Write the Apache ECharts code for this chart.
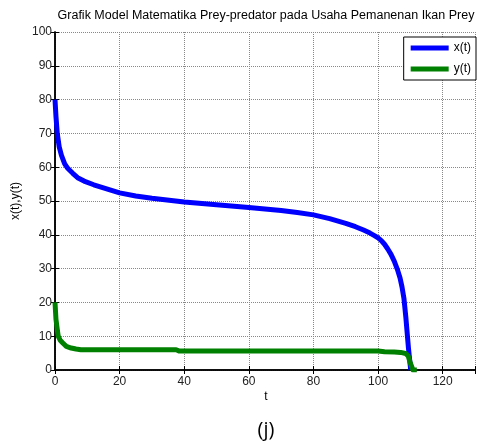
<!DOCTYPE html>
<html>
<head>
<meta charset="utf-8">
<script src="https://cdn.jsdelivr.net/npm/echarts@6/dist/echarts.min.js"></script>
<style>html,body{margin:0;padding:0;background:#fff}#c{width:478px;height:448px}</style>
</head>
<body>
<div id="c"></div>
<script>
const titleText = 'Grafik Model Matematika Prey-predator pada Usaha Pemanenan Ikan Prey';
const xTicks = [0, 20, 40, 60, 80, 100, 120];
const yTicks = [0, 10, 20, 30, 40, 50, 60, 70, 80, 90, 100];
const seriesNames = ['x(t)', 'y(t)'];

const tX = [0, 0.3, 0.7, 1.3, 2, 3, 4, 5.5, 7, 9, 12, 16, 20, 25, 30, 40, 50, 60, 70, 75, 80, 85, 90, 93, 95.5, 97.5, 99, 100, 101, 102, 103, 104, 105, 106, 106.8, 107.4, 108, 108.6, 109.4, 110.1];
const xVals = [80, 75, 70, 66, 63.5, 61, 59.6, 58.2, 56.9, 55.9, 54.8, 53.6, 52.4, 51.5, 50.8, 49.7, 48.9, 48.1, 47.2, 46.6, 45.9, 44.8, 43.4, 42.4, 41.4, 40.5, 39.7, 39.1, 38.3, 37.2, 35.8, 34.2, 32.2, 29.7, 27.2, 24.6, 21.2, 15.5, 6.5, 0];

const tY = [0, 0.3, 0.7, 1, 1.6, 2.5, 3.5, 5, 6.5, 8, 20, 37.5, 38.5, 60, 80, 100, 102, 105, 107, 108.5, 109.3, 110, 110.8, 112];
const yVals = [20, 15, 12, 10, 8.8, 7.9, 7, 6.5, 6.2, 6.0, 6.0, 6.0, 5.6, 5.6, 5.6, 5.6, 5.4, 5.3, 5.2, 4.9, 4.2, 2, 0, 0];

const pairs = (ts, vs) => ts.map((t, i) => [t, vs[i]]);
const font = 'Liberation Sans, Arial, sans-serif';

const chart = echarts.init(document.getElementById('c'), null, {renderer: 'canvas'});
const baseAxisLine = {show: true, lineStyle: {color: '#000', width: 1.5}};
chart.setOption({
  animation: false,
  backgroundColor: '#fff',
  grid: {left: 55, top: 32, right: -1, bottom: 78, containLabel: false},
  xAxis: [{
    type: 'value', min: 0, max: 130, interval: 20, position: 'bottom',
    axisLine: baseAxisLine,
    axisTick: {show: true, inside: true, length: 4, lineStyle: {color: '#000'}},
    axisLabel: {color: '#222', fontSize: 12, fontFamily: font, margin: 6,
      formatter: v => xTicks.includes(v) ? String(v) : ''},
    splitLine: {show: true, lineStyle: {color: '#888', type: 'dotted', width: 1}}
  }, {
    type: 'value', min: 0, max: 130, interval: 20, position: 'top',
    axisLine: baseAxisLine,
    axisTick: {show: true, inside: true, length: 4, lineStyle: {color: '#000'}},
    axisLabel: {show: false}, splitLine: {show: false}
  }],
  yAxis: [{
    type: 'value', min: 0, max: 100, interval: 10, position: 'left',
    axisLine: baseAxisLine,
    axisTick: {show: true, inside: true, length: 4, lineStyle: {color: '#000'}},
    axisLabel: {color: '#222', fontSize: 12, fontFamily: font, margin: 3,
      formatter: v => yTicks.includes(v) ? String(v) : ''},
    splitLine: {show: true, lineStyle: {color: '#888', type: 'dotted', width: 1}}
  }, {
    type: 'value', min: 0, max: 100, interval: 10, position: 'right',
    axisLine: baseAxisLine,
    axisTick: {show: true, inside: true, length: 4, lineStyle: {color: '#000'}},
    axisLabel: {show: false}, splitLine: {show: false}
  }],
  legend: {
    orient: 'vertical', right: 2, top: 37,
    data: seriesNames,
    icon: 'rect', itemWidth: 38, itemHeight: 5, itemGap: 9,
    padding: [5, 5, 5, 7],
    borderColor: '#000', borderWidth: 1, backgroundColor: '#fff', borderRadius: 0,
    textStyle: {color: '#000', fontSize: 12, fontFamily: font}
  },
  series: [{
    name: seriesNames[0], type: 'line', showSymbol: false, symbol: 'none',
    data: pairs(tX, xVals), smooth: false,
    lineStyle: {color: '#0000ff', width: 5, join: 'round'}, itemStyle: {color: '#0000ff'}
  }, {
    name: seriesNames[1], type: 'line', showSymbol: false, symbol: 'none',
    data: pairs(tY, yVals), smooth: false,
    lineStyle: {color: '#008000', width: 5, join: 'round'}, itemStyle: {color: '#008000'}
  }],
  graphic: [
    {type: 'text', style: {text: titleText, x: 266, y: 16, align: 'center', verticalAlign: 'middle', fontSize: 12.5, fontFamily: font, fill: '#000'}},
    {type: 'text', style: {text: 't', x: 266, y: 397, align: 'center', verticalAlign: 'middle', fontSize: 12, fontFamily: font, fill: '#000'}},
    {type: 'text', x: 16, y: 201, rotation: Math.PI / 2, style: {text: 'x(t),y(t)', x: 0, y: 0, align: 'center', verticalAlign: 'middle', fontSize: 12, fontFamily: font, fill: '#000'}},
    {type: 'text', style: {text: '(j)', x: 266, y: 430, align: 'center', verticalAlign: 'middle', fontSize: 20, fontFamily: 'Open Sans, sans-serif', fill: '#000'}}
  ]
});
</script>
</body>
</html>
